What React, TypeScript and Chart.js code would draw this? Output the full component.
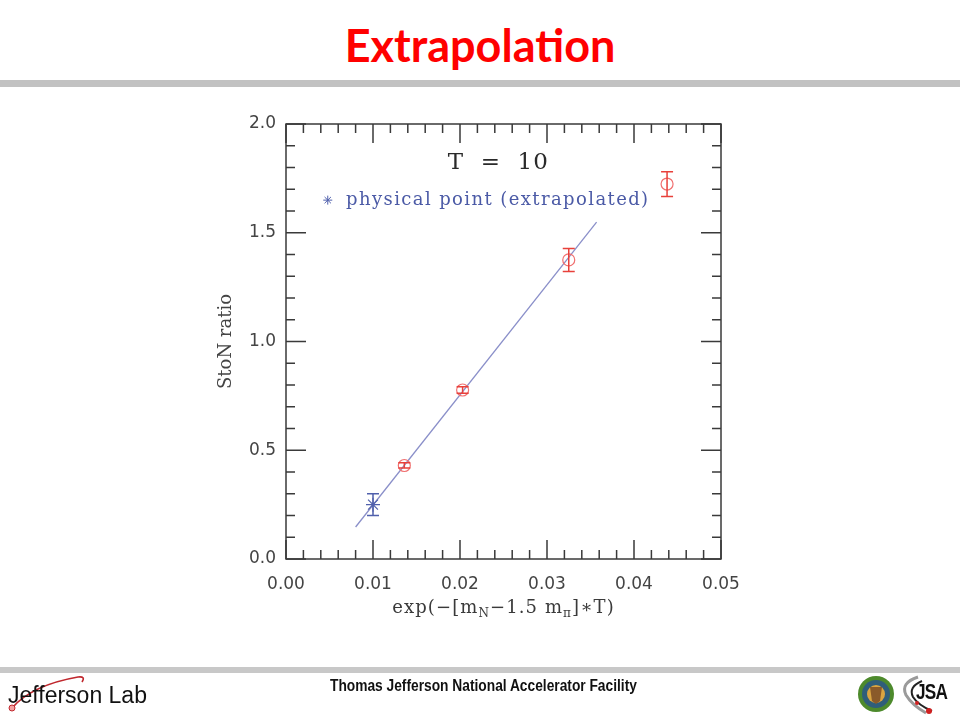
import { useEffect, useRef } from 'react';
import { Chart, registerables } from 'chart.js';

Chart.register(...registerables);

// ---- data ----
const latticeX = [0.0136, 0.0203, 0.0325, 0.0438];
const latticeY = [0.43, 0.777, 1.375, 1.724];
const latticeErr = [0.012, 0.015, 0.053, 0.057];

const physicalX = [0.01];
const physicalY = [0.25];
const physicalErr = [0.05];

const fitX = [0.008, 0.0357];
const fitY = [0.147, 1.549];

const xTickLabels = ['0.00', '0.01', '0.02', '0.03', '0.04', '0.05'];
const yTickLabels = ['0.0', '0.5', '1.0', '1.5', '2.0'];

const plotTitle = 'T  =  10';
const legendText = 'physical point (extrapolated)';
const yTitle = 'StoN ratio';

const X_MIN = 0, X_MAX = 0.05, X_STEP = 0.01, X_MINOR = 0.002;
const Y_MIN = 0, Y_MAX = 2.0, Y_STEP = 0.5, Y_MINOR = 0.1;

const errSets: Record<number, { err: number[]; color: string }> = {
  1: { err: latticeErr, color: '#e8403a' },
  2: { err: physicalErr, color: '#5060ac' },
};

const frameTicks = {
  id: 'frameTicks',
  afterDatasetsDraw(chart: any) {
    const { ctx, chartArea: a, scales } = chart;
    const x = scales.x, y = scales.y;
    ctx.save();
    ctx.strokeStyle = '#3a3a3a';
    ctx.lineWidth = 1.5;
    ctx.strokeRect(a.left, a.top, a.right - a.left, a.bottom - a.top);
    ctx.beginPath();
    const nx = Math.round((X_MAX - X_MIN) / X_MINOR);
    const perX = Math.round(X_STEP / X_MINOR);
    for (let i = 0; i <= nx; i++) {
      const px = x.getPixelForValue(X_MIN + i * X_MINOR);
      const len = i % perX === 0 ? 19 : 9;
      ctx.moveTo(px, a.bottom); ctx.lineTo(px, a.bottom - len);
      ctx.moveTo(px, a.top); ctx.lineTo(px, a.top + len);
    }
    const ny = Math.round((Y_MAX - Y_MIN) / Y_MINOR);
    const perY = Math.round(Y_STEP / Y_MINOR);
    for (let i = 0; i <= ny; i++) {
      const py = y.getPixelForValue(Y_MIN + i * Y_MINOR);
      const len = i % perY === 0 ? 20 : 9;
      ctx.moveTo(a.left, py); ctx.lineTo(a.left + len, py);
      ctx.moveTo(a.right, py); ctx.lineTo(a.right - len, py);
    }
    ctx.stroke();
    ctx.restore();
  },
};

const errorBars = {
  id: 'errorBars',
  afterDatasetsDraw(chart: any) {
    const { ctx, scales } = chart;
    const y = scales.y;
    ctx.save();
    ctx.lineWidth = 1.5;
    Object.keys(errSets).forEach((k) => {
      const idx = Number(k);
      const { err, color } = errSets[idx];
      const meta = chart.getDatasetMeta(idx);
      const ds = chart.data.datasets[idx];
      ctx.strokeStyle = color;
      meta.data.forEach((pt: any, j: number) => {
        const v = (ds.data[j] as any).y;
        const top = y.getPixelForValue(v + err[j]);
        const bot = y.getPixelForValue(v - err[j]);
        const cx = pt.x;
        ctx.beginPath();
        ctx.moveTo(cx, top); ctx.lineTo(cx, bot);
        ctx.moveTo(cx - 6, top); ctx.lineTo(cx + 6, top);
        ctx.moveTo(cx - 6, bot); ctx.lineTo(cx + 6, bot);
        ctx.stroke();
      });
    });
    ctx.restore();
  },
};

function drawStar(ctx: CanvasRenderingContext2D, cx: number, cy: number, r: number) {
  ctx.beginPath();
  for (let k = 0; k < 4; k++) {
    const ang = (k * Math.PI) / 4;
    ctx.moveTo(cx - Math.cos(ang) * r, cy - Math.sin(ang) * r);
    ctx.lineTo(cx + Math.cos(ang) * r, cy + Math.sin(ang) * r);
  }
  ctx.stroke();
}

const annotations = {
  id: 'annotations',
  afterDraw(chart: any) {
    const { ctx, chartArea: a, scales } = chart;
    const x = scales.x, y = scales.y;
    ctx.save();
    // T = 10
    ctx.fillStyle = '#2a2a2a';
    ctx.font = '23px "DejaVu Serif"';
    (ctx as any).letterSpacing = '1px';
    ctx.textAlign = 'center';
    ctx.textBaseline = 'middle';
    ctx.fillText(plotTitle, x.getPixelForValue(0.0244), y.getPixelForValue(1.82));
    // legend
    ctx.strokeStyle = '#5060ac';
    ctx.lineWidth = 1;
    drawStar(ctx, x.getPixelForValue(0.0048), y.getPixelForValue(1.65), 4.5);
    ctx.fillStyle = '#4b5aa6';
    ctx.font = '18px "DejaVu Serif"';
    (ctx as any).letterSpacing = '1.4px';
    ctx.textAlign = 'left';
    ctx.fillText(legendText, x.getPixelForValue(0.0069), y.getPixelForValue(1.65));
    // x axis title with subscripts
    (ctx as any).letterSpacing = '1.1px';
    const big = '18px "DejaVu Serif"';
    const small = '12px "DejaVu Serif"';
    const parts: [string, boolean][] = [
      ['exp(\u2212[m', false], ['N', true], ['\u22121.5 m', false], ['\u03c0', true], [']\u2217T)', false],
    ];
    let total = 0;
    parts.forEach(([t, sub]) => { ctx.font = sub ? small : big; total += ctx.measureText(t).width; });
    let px = (a.left + a.right) / 2 - total / 2;
    const baseY = a.bottom + 54;
    ctx.fillStyle = '#3a3a3a';
    ctx.textBaseline = 'alphabetic';
    parts.forEach(([t, sub]) => {
      ctx.font = sub ? small : big;
      ctx.fillText(t, px, sub ? baseY + 4 : baseY);
      px += ctx.measureText(t).width;
    });
    ctx.restore();
  },
};

export default function App() {
  const ref = useRef<HTMLCanvasElement>(null);

  useEffect(() => {
    const canvas = ref.current;
    if (!canvas) return;
    const chart = new Chart(canvas, {
      type: 'scatter',
      data: {
        datasets: [
          {
            label: 'fit',
            data: fitX.map((v, i) => ({ x: v, y: fitY[i] })),
            showLine: true,
            borderColor: '#8a8fc9',
            borderWidth: 1.3,
            pointRadius: 0,
            order: 3,
          },
          {
            label: 'lattice',
            data: latticeX.map((v, i) => ({ x: v, y: latticeY[i] })),
            pointStyle: 'circle',
            pointRadius: 6,
            borderColor: '#f07070',
            backgroundColor: 'rgba(0,0,0,0)',
            pointBorderWidth: 1.2,
            order: 1,
          },
          {
            label: 'physical',
            data: physicalX.map((v, i) => ({ x: v, y: physicalY[i] })),
            pointStyle: 'star',
            pointRadius: 7,
            borderColor: '#5060ac',
            backgroundColor: '#5060ac',
            pointBorderWidth: 1.2,
            order: 0,
          },
        ],
      },
      options: {
        responsive: false,
        animation: false,
        layout: { padding: { left: 216, right: 239, top: 124, bottom: 91 } },
        plugins: { legend: { display: false }, tooltip: { enabled: false } },
        scales: {
          x: {
            type: 'linear',
            min: X_MIN,
            max: X_MAX,
            grid: { display: false, drawTicks: false },
            border: { display: false },
            ticks: {
              stepSize: X_STEP,
              padding: 15,
              autoSkip: false,
              maxRotation: 0,
              color: '#444',
              font: { family: 'DejaVu Sans', size: 17 },
              callback: (_v: any, i: number) => xTickLabels[i] ?? '',
            },
            afterFit: (s: any) => { s.height = 70; },
          },
          y: {
            type: 'linear',
            min: Y_MIN,
            max: Y_MAX,
            grid: { display: false, drawTicks: false },
            border: { display: false },
            title: {
              display: true,
              text: yTitle,
              color: '#444',
              font: { family: 'DejaVu Serif', size: 18 },
              padding: 0,
            },
            ticks: {
              stepSize: Y_STEP,
              padding: 10,
              color: '#444',
              font: { family: 'DejaVu Sans', size: 17 },
              callback: (_v: any, i: number) => yTickLabels[i] ?? '',
            },
            afterFit: (s: any) => { s.width = 70; },
          },
        },
      },
      plugins: [frameTicks, errorBars, annotations],
    });
    return () => chart.destroy();
  }, []);

  return (
    <div style={{ position: 'fixed', left: 0, top: 0, width: 960, height: 720, background: '#fff', overflow: 'hidden' }}>
      <div style={{ position: 'absolute', left: 0, top: 18, width: 960, textAlign: 'center', fontFamily: 'Lato, sans-serif', fontWeight: 700, fontSize: 45, lineHeight: 1.2, color: '#ff0000' }}>
        Extrapolation
      </div>
      <div style={{ position: 'absolute', left: 0, top: 80, width: 960, height: 7, background: '#c2c2c2' }} />
      <canvas ref={ref} width={960} height={720} style={{ position: 'absolute', left: 0, top: 0, width: 960, height: 720 }} />
      <div style={{ position: 'absolute', left: 0, top: 667, width: 960, height: 6, background: '#c8c8c8' }} />
      <svg width={960} height={47} style={{ position: 'absolute', left: 0, top: 673 }}>
        <path d="M12 35 Q 32 12 78 4 Q 86 3 82 9" fill="none" stroke="#c0282e" strokeWidth={1.6} />
        <circle cx={12} cy={35} r={3} fill="#f4a0a0" stroke="#c0282e" strokeWidth={1} />
        <circle cx={876} cy={21} r={18} fill="#4d8a2c" />
        <circle cx={876} cy={21} r={14} fill="#2f5e7a" />
        <circle cx={876} cy={21} r={9} fill="#d9a441" />
        <path d="M870 14 L882 14 L880 28 L876 31 L872 28 Z" fill="#8a5a2a" />
        <path d="M918 4 Q 900 10 906 22 Q 912 32 926 40" fill="none" stroke="#9a9a9a" strokeWidth={3} />
        <path d="M922 8 Q 908 14 913 24 Q 918 32 932 38" fill="none" stroke="#222" strokeWidth={2} />
        <circle cx={929} cy={38} r={3} fill="#d02020" />
        <circle cx={917} cy={30} r={2} fill="#d02020" />
      </svg>
      <div style={{ position: 'absolute', left: 8, top: 682, fontFamily: '"Liberation Sans", Arial, sans-serif', fontSize: 23, lineHeight: 1.2, color: '#111' }}>
        Jefferson Lab
      </div>
      <div style={{ position: 'absolute', left: 0, top: 676, width: 966, textAlign: 'center' }}>
        <span style={{ display: 'inline-block', transform: 'scaleX(0.86)', fontFamily: '"Liberation Sans", sans-serif', fontWeight: 700, fontSize: 16, lineHeight: 1.2, color: '#111' }}>
          Thomas Jefferson National Accelerator Facility
        </span>
      </div>
      <div style={{ position: 'absolute', left: 916, top: 679, transform: 'scaleX(0.78)', transformOrigin: 'left top', fontFamily: '"Liberation Sans", sans-serif', fontWeight: 700, fontSize: 22, lineHeight: 1.2, color: '#111', letterSpacing: -1 }}>
        JSA
      </div>
    </div>
  );
}
